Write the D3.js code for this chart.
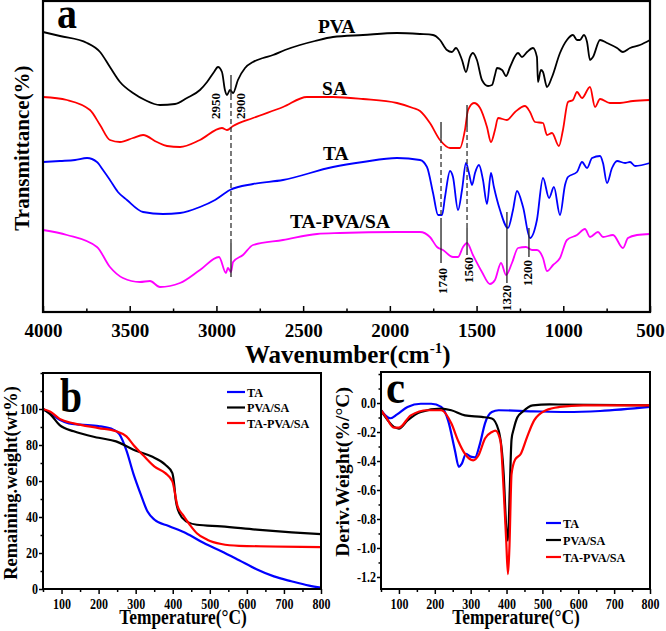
<!DOCTYPE html>
<html><head><meta charset="utf-8">
<script src="https://cdn.jsdelivr.net/npm/d3@7"></script>
<style>
body{margin:0;background:#fff}
text{font-family:"Liberation Serif","Times New Roman",serif;font-weight:bold;fill:#000}
</style>
</head><body>
<svg id="chart" width="666" height="631"></svg>
<script>
// ---------- DATA ----------
// Panel a: FTIR, [wavenumber (cm-1), offset transmittance (a.u.)]
const ftirNames = ["PVA", "SA", "TA", "TA-PVA/SA"];
const ftirPVA = [[4000,280],[3902,276],[3746,269],[3671,260],[3614,245],[3556,230],[3481,219],[3412,212],[3326,207],[3239,208],[3170,214],[3095,222],[3054,230],[3014,240],[2991,245],[2968,240],[2951,222],[2939,217],[2922,222],[2904,219],[2876,232],[2835,244],[2789,250],[2731,254],[2674,257],[2605,262],[2518,267],[2432,271],[2328,275],[2155,277],[1959,279],[1826,278],[1751,277],[1711,272],[1671,262],[1642,260],[1619,264],[1584,252],[1561,240],[1538,255],[1521,259],[1498,252],[1469,232],[1434,226],[1411,227],[1394,237],[1382,244],[1353,242],[1330,236],[1307,245],[1261,259],[1238,255],[1209,260],[1175,264],[1152,255],[1146,230],[1129,242],[1117,240],[1094,225],[1065,235],[1019,259],[979,272],[944,277],[921,272],[904,272],[881,277],[863,270],[846,252],[829,255],[788,272],[748,269],[690,264],[656,260],[615,264],[558,267],[500,272]];
const ftirSA = [[4000,215],[3862,212],[3729,202],[3671,187],[3614,172],[3556,170],[3481,174],[3423,177],[3343,170],[3285,166],[3210,165],[3095,172],[2968,184],[2939,182],[2904,186],[2789,194],[2616,205],[2478,215],[2328,215],[2155,213],[1959,209],[1867,204],[1826,201],[1769,189],[1711,172],[1653,164],[1596,164],[1567,182],[1549,202],[1515,209],[1480,204],[1440,185],[1417,170],[1394,182],[1376,194],[1325,192],[1278,200],[1221,206],[1192,200],[1163,190],[1117,189],[1094,177],[1065,179],[1025,166],[1002,182],[973,210],[944,212],[921,220],[892,214],[846,225],[817,205],[788,213],[731,209],[673,209],[598,211],[500,212]];
const ftirTA = [[4000,150],[3902,151],[3815,152],[3746,154],[3689,150],[3654,142],[3614,132],[3568,120],[3516,112],[3423,100],[3308,98],[3210,99],[3095,105],[3008,112],[2922,122],[2789,128],[2616,132],[2328,145],[2155,150],[1959,154],[1826,152],[1786,145],[1751,119],[1722,97],[1699,97],[1682,115],[1653,141],[1636,135],[1607,102],[1584,122],[1561,149],[1544,139],[1526,127],[1509,139],[1486,147],[1463,132],[1440,108],[1417,139],[1400,125],[1365,102],[1319,84],[1290,102],[1267,121],[1232,105],[1192,74],[1152,92],[1117,134],[1082,114],[1054,125],[1019,97],[990,127],[973,135],[921,140],[892,150],[863,144],[834,154],[788,156],[771,149],[748,129],[719,144],[690,151],[644,149],[615,150],[586,146],[500,149]];
const ftirBlend = [[4000,82],[3862,77],[3689,65],[3614,45],[3539,34],[3441,30],[3383,31],[3326,25],[3210,29],[3095,42],[2985,55],[2945,39],[2934,44],[2916,40],[2904,50],[2847,57],[2789,67],[2616,72],[2420,78],[2288,79],[1959,80],[1826,80],[1769,75],[1728,65],[1694,62],[1636,55],[1607,55],[1578,65],[1555,69],[1521,57],[1469,40],[1423,28],[1394,32],[1359,49],[1330,37],[1296,49],[1261,64],[1215,65],[1180,62],[1152,62],[1117,54],[1094,41],[1059,47],[1019,54],[979,72],[921,77],[875,83],[846,75],[800,80],[771,75],[713,77],[656,64],[627,74],[575,77],[500,78]];
const ftirTicks = [4000,3500,3000,2500,2000,1500,1000,500];
const ftirMinor = [3750,3250,2750,2250,1750,1250,750];
// curve label anchor points [wavenumber, value]
const ftirLabelAt = [[2415,279],[2391,217],[2386,152],[2576,84]];
// band marker lines: wavenumber, solid/dashed segments (value ranges)
const markerWn = [2916, 1705, 1555, 1325, 1198];
const markerSolid = [[[237,217],[69,35]], [[190,174],[94,49]], [[207,185],[84,57]], [[100,29]], [[84,55]]];
const markerDash = [[[217,69]], [[174,94]], [[185,84]], [], []];
const bandLabels = ["2950","2900","1740","1560","1320","1200"];
const bandLabelAt = [[3008,219],[2864,219],[1694,44],[1549,55],[1325,27],[1209,52]];

// Panel b: TGA [T (°C), remaining weight (wt%)]
const seriesNames = ["TA", "PVA/SA", "TA-PVA/SA"];
const tgaTA = [[50,100],[70,97.5],[95,94],[120,92],[150,91.3],[200,90.5],[240,88.5],[256,86],[275,77],[294,64],[313,53],[332,43],[351,38.5],[389,35],[436,31],[484,25.5],[531,21],[579,16],[626,11],[673,7],[720,4.3],[768,1.9],[800,0.8]];
const tgaPVASA = [[50,100],[70,97],[95,91],[133,87.6],[200,84],[247,82],[294,77.4],[342,73.7],[380,69],[399,64.4],[404,58],[408,49.6],[418,42],[436,37.6],[465,35.7],[531,34.8],[626,33],[721,31.5],[800,30.5]];
const tgaBlend = [[50,100],[70,98.5],[95,94.5],[133,92],[200,89.4],[247,87.6],[275,84.8],[294,80],[323,73.7],[351,68],[380,64.4],[399,59.8],[413,46],[427,41.3],[446,35.7],[465,31],[493,27.4],[531,25],[579,24],[800,23.3]];
const tgaTicks = [0,20,40,60,80,100];
const tgaMinor = [10,30,50,70,90,110,120];

// Panel c: DTG [T (°C), deriv. weight (%/°C)]
const dtgTA = [[50,-0.05],[62,-0.085],[76,-0.105],[95,-0.078],[124,-0.027],[161,-0.005],[190,-0.005],[218,-0.027],[237,-0.12],[256,-0.325],[267,-0.44],[275,-0.42],[287,-0.35],[300,-0.37],[312,-0.375],[326,-0.28],[340,-0.14],[359,-0.062],[378,-0.05],[473,-0.057],[567,-0.062],[661,-0.055],[800,-0.027]];
const dtgPVASA = [[50,-0.05],[62,-0.096],[86,-0.165],[100,-0.176],[124,-0.12],[161,-0.062],[218,-0.039],[246,-0.05],[284,-0.085],[331,-0.096],[359,-0.107],[378,-0.19],[392,-0.49],[399,-0.85],[404,-0.95],[409,-0.6],[414,-0.25],[420,-0.18],[430,-0.1],[444,-0.062],[473,-0.016],[520,-0.01],[800,-0.016]];
const dtgBlend = [[50,-0.05],[62,-0.09],[86,-0.17],[100,-0.17],[133,-0.085],[180,-0.05],[218,-0.05],[246,-0.14],[265,-0.26],[284,-0.35],[307,-0.395],[322,-0.36],[340,-0.245],[359,-0.2],[369,-0.19],[383,-0.26],[392,-0.6],[399,-0.945],[404,-1.18],[408,-1.0],[414,-0.49],[424,-0.39],[440,-0.35],[458,-0.23],[477,-0.12],[510,-0.05],[548,-0.027],[614,-0.016],[800,-0.016]];
const dtgTicks = [0,-0.2,-0.4,-0.6,-0.8,-1.0,-1.2];
const dtgMinor = [0.2,0.1,-0.1,-0.3,-0.5,-0.7,-0.9,-1.1];
const tempTicks = [100,200,300,400,500,600,700,800];
const tempMinor = [50,150,250,350,450,550,650,750];

// ---------- STYLE ----------
const ftirColors = ["#000000","#ff0000","#0000ff","#ff00ff"];
const tgColors = ["#0000ff","#000000","#ff0000"];

const svg = d3.select("#chart");
function squeeze(sel, r){
  sel.each(function(){
    const w = this.getComputedTextLength();
    d3.select(this).attr("textLength", w*r).attr("lengthAdjust","spacingAndGlyphs");
  });
}
function styleAxis(g, fs){
  g.select(".domain").remove();
  g.selectAll(".tick line").attr("stroke","#000").attr("stroke-width",1.5);
  g.selectAll("text").style("font-size", fs+"px").attr("fill","#000");
}

// ---------- PANEL A ----------
const xA = d3.scaleLinear().domain([4000,500]).range([43,650]);
const yA = d3.scaleLinear().domain([0,311]).range([312,1]);
const gA = svg.append("g");
const lineA = d3.line().x(d=>xA(d[0])).y(d=>yA(d[1])).curve(d3.curveMonotoneX);
[ftirPVA, ftirSA, ftirTA, ftirBlend].forEach((s,i)=>{
  gA.append("path").attr("d", lineA(s)).attr("fill","none")
    .attr("stroke", ftirColors[i]).attr("stroke-width",1.8).attr("stroke-linejoin","round");
});
// markers
markerWn.forEach((wn,i)=>{
  markerSolid[i].forEach(seg=>{
    gA.append("line").attr("x1",xA(wn)).attr("x2",xA(wn)).attr("y1",yA(seg[0])).attr("y2",yA(seg[1]))
      .attr("stroke","#222").attr("stroke-width",1.3);
  });
  markerDash[i].forEach(seg=>{
    gA.append("line").attr("x1",xA(wn)).attr("x2",xA(wn)).attr("y1",yA(seg[0])).attr("y2",yA(seg[1]))
      .attr("stroke","#333").attr("stroke-width",1.3).attr("stroke-dasharray","5,3");
  });
});
bandLabels.forEach((t,i)=>{
  gA.append("text").text(t)
    .attr("transform",`translate(${xA(bandLabelAt[i][0])},${yA(bandLabelAt[i][1])}) rotate(-90)`)
    .attr("text-anchor","end").attr("dy","0.35em").style("font-size","13px");
});
ftirNames.forEach((t,i)=>{
  gA.append("text").text(t).attr("x",xA(ftirLabelAt[i][0])).attr("y",yA(ftirLabelAt[i][1]))
    .style("font-size","19.5px");
});
// axis
const axA = gA.append("g").attr("transform","translate(0,312)")
  .call(d3.axisBottom(xA).tickValues(ftirTicks).tickSize(-6).tickPadding(12).tickFormat(d3.format("d")));
styleAxis(axA, 19);
const axAm = gA.append("g").attr("transform","translate(0,312)")
  .call(d3.axisBottom(xA).tickValues(ftirMinor).tickSize(-3.5).tickFormat(""));
styleAxis(axAm, 10);
gA.append("rect").attr("x",43).attr("y",1).attr("width",607).attr("height",311)
  .attr("fill","none").attr("stroke","#000").attr("stroke-width",2.2);
gA.append("text").text("a").attr("x",57).attr("y",28).style("font-size","44px").attr("textLength",20).attr("lengthAdjust","spacingAndGlyphs");
gA.append("text").text("Transmittance(%)").attr("transform","translate(29,148) rotate(-90)")
  .attr("text-anchor","middle").style("font-size","21px");
const wt = gA.append("text").attr("x",245).attr("y",363).style("font-size","25px");
wt.append("tspan").text("Wavenumber(cm");
wt.append("tspan").text("-1").attr("dy",-10).style("font-size","15px");
wt.append("tspan").text(")").attr("dy",10);

// ---------- PANEL B ----------
const xB = d3.scaleLinear().domain([50,800]).range([43,321]);
const yB = d3.scaleLinear().domain([0,120]).range([589,373]);
const gB = svg.append("g");
const lineB = d3.line().x(d=>xB(d[0])).y(d=>yB(d[1])).curve(d3.curveMonotoneX);
[tgaTA, tgaPVASA, tgaBlend].forEach((s,i)=>{
  gB.append("path").attr("d", lineB(s)).attr("fill","none").attr("stroke", tgColors[i]).attr("stroke-width",2.2);
});
let ax = gB.append("g").attr("transform","translate(0,589)")
  .call(d3.axisBottom(xB).tickValues(tempTicks).tickSize(5).tickPadding(4));
styleAxis(ax, 15); squeeze(ax.selectAll("text"), 0.8);
ax = gB.append("g").attr("transform","translate(0,589)").call(d3.axisBottom(xB).tickValues(tempMinor).tickSize(3).tickFormat(""));
styleAxis(ax, 10);
ax = gB.append("g").attr("transform","translate(43,0)")
  .call(d3.axisLeft(yB).tickValues(tgaTicks).tickSize(4).tickPadding(1));
styleAxis(ax, 15); squeeze(ax.selectAll("text"), 0.8);
ax = gB.append("g").attr("transform","translate(43,0)").call(d3.axisLeft(yB).tickValues(tgaMinor).tickSize(2.5).tickFormat(""));
styleAxis(ax, 10);
gB.append("rect").attr("x",43).attr("y",373).attr("width",278).attr("height",216)
  .attr("fill","none").attr("stroke","#000").attr("stroke-width",2);
gB.append("text").text("b").attr("x",60).attr("y",412).style("font-size","48px").attr("textLength",22).attr("lengthAdjust","spacingAndGlyphs");
gB.append("text").text("Remaining.weight(wt%)").attr("transform","translate(17,483) rotate(-90)")
  .attr("text-anchor","middle").style("font-size","18.5px");
let tt = gB.append("text").text("Temperature(°C)").attr("x",183).attr("y",624).attr("text-anchor","middle").style("font-size","22px");
squeeze(tt, 0.79);
seriesNames.forEach((n,i)=>{
  const yy = 392 + i*15.5;
  gB.append("line").attr("x1",227).attr("x2",245).attr("y1",yy).attr("y2",yy).attr("stroke",tgColors[i]).attr("stroke-width",2.2);
  const t = gB.append("text").text(n).attr("x",247).attr("y",yy).attr("dy","0.35em").style("font-size","13.5px");
  squeeze(t, 0.9);
});

// ---------- PANEL C ----------
const xC = d3.scaleLinear().domain([50,800]).range([381,650]);
const yC = d3.scaleLinear().domain([-1.283,0.214]).range([589,372]);
const gC = svg.append("g");
const lineC = d3.line().x(d=>xC(d[0])).y(d=>yC(d[1])).curve(d3.curveMonotoneX);
[dtgTA, dtgPVASA, dtgBlend].forEach((s,i)=>{
  gC.append("path").attr("d", lineC(s)).attr("fill","none").attr("stroke", tgColors[i]).attr("stroke-width",2.2);
});
ax = gC.append("g").attr("transform","translate(0,589)")
  .call(d3.axisBottom(xC).tickValues(tempTicks).tickSize(5).tickPadding(4));
styleAxis(ax, 15); squeeze(ax.selectAll("text"), 0.8);
ax = gC.append("g").attr("transform","translate(0,589)").call(d3.axisBottom(xC).tickValues(tempMinor).tickSize(3).tickFormat(""));
styleAxis(ax, 10);
ax = gC.append("g").attr("transform","translate(381,0)")
  .call(d3.axisLeft(yC).tickValues(dtgTicks).tickSize(4).tickPadding(1).tickFormat(d3.format(".1f")));
styleAxis(ax, 15);
ax.selectAll("text").text(d=>d3.format(".1f")(d).replace("−","-"));
squeeze(ax.selectAll("text"), 0.8);
ax = gC.append("g").attr("transform","translate(381,0)").call(d3.axisLeft(yC).tickValues(dtgMinor).tickSize(2.5).tickFormat(""));
styleAxis(ax, 10);
gC.append("rect").attr("x",381).attr("y",372).attr("width",269).attr("height",217)
  .attr("fill","none").attr("stroke","#000").attr("stroke-width",2);
gC.append("text").text("c").attr("x",386).attr("y",403).style("font-size","46px").attr("textLength",19).attr("lengthAdjust","spacingAndGlyphs");
gC.append("text").text("Deriv.Weight(%/°C)").attr("transform","translate(349,472) rotate(-90)")
  .attr("text-anchor","middle").style("font-size","19.5px");
tt = gC.append("text").text("Temperature(°C)").attr("x",516).attr("y",624).attr("text-anchor","middle").style("font-size","22px");
squeeze(tt, 0.79);
seriesNames.forEach((n,i)=>{
  const yy = 523 + i*17;
  gC.append("line").attr("x1",546).attr("x2",561).attr("y1",yy).attr("y2",yy).attr("stroke",tgColors[i]).attr("stroke-width",2.2);
  const t = gC.append("text").text(n).attr("x",563).attr("y",yy).attr("dy","0.35em").style("font-size","13.5px");
  squeeze(t, 0.9);
});
</script>
</body></html>
